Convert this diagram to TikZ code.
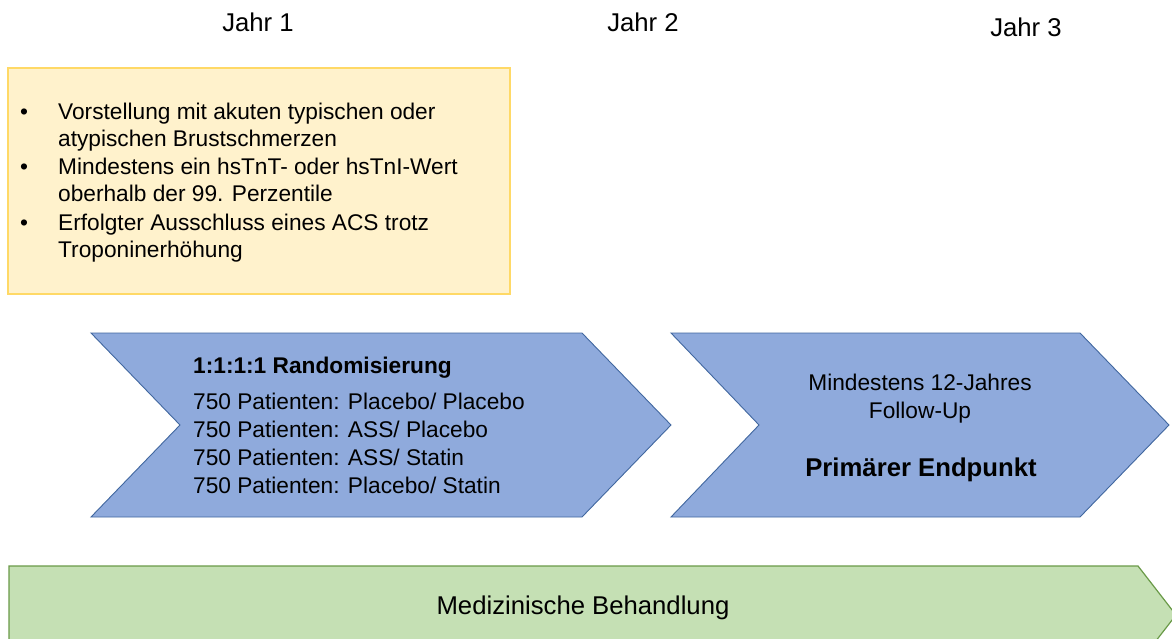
\documentclass[tikz,border=0pt]{standalone}
\usepackage{fontspec}
\setmainfont{Liberation Sans}
\definecolor{chevfill}{HTML}{8FAADC}
\definecolor{chevdraw}{HTML}{41679F}
\definecolor{yelfill}{HTML}{FFF2CC}
\definecolor{yeldraw}{HTML}{FFD966}
\definecolor{grnfill}{HTML}{C5E0B4}
\definecolor{grndraw}{HTML}{6A9A48}
\tikzset{
  chev/.style={fill=chevfill,draw=chevdraw,line width=0.9pt,line join=miter},
  ybox/.style={fill=yelfill,draw=yeldraw,line width=1.2pt},
  gbar/.style={fill=grnfill,draw=grndraw,line width=1.2pt},
  txt/.style={inner sep=0pt,font=\fontsize{22.7}{28}\selectfont,anchor=base west},
  txtb/.style={txt,font=\fontsize{22.7}{28}\selectfont\bfseries},
  big/.style={inner sep=0pt,font=\fontsize{25.7}{30}\selectfont,anchor=base},
}
\begin{document}
\begin{tikzpicture}[x=1pt,y=-1pt]
\useasboundingbox (0,0) rectangle (1172,639);
\begin{scope}
\clip (0,0) rectangle (1172,639);
% green bar
\draw[gbar] (9,566) -- (1138,566) -- (1176,615) -- (1138,664) -- (9,664) -- cycle;
\end{scope}
\node[big] (med) at (583,614) {Medizinische Behandlung};
% year labels
\node[big] (j1) at (258,32) {Jahr 1};
\node[big] (j2) at (643,32) {Jahr 2};
\node[big] (j3) at (1026,37) {Jahr 3};
% yellow box
\draw[ybox] (8,68) rectangle (510,294);
\node[txt] (b1) at (20,120) {•};
\node[txt] (l1) at (58,120) {Vorstellung mit akuten typischen oder};
\node[txt] (l2) at (58,147) {atypischen Brustschmerzen};
\node[txt] (b2) at (20,175) {•};
\node[txt] (l3) at (58,175) {Mindestens ein hsTnT- oder hsTnI-Wert};
\node[txt] (l4) at (58,202) {oberhalb der 99. Perzentile};
\node[txt] (b3) at (20,230) {•};
\node[txt] (l5) at (58,230) {Erfolgter Ausschluss eines ACS trotz};
\node[txt] (l6) at (58,257) {Troponinerhöhung};
% chevron 1
\draw[chev] (91,333) -- (582,333) -- (671,425) -- (582,517) -- (91,517) -- (180,425) -- cycle;
\node[txtb] (r0) at (193,373) {1:1:1:1 Randomisierung};
\node[txt] (r1) at (193,409) {750 Patienten: Placebo/ Placebo};
\node[txt] (r2) at (193,437) {750 Patienten: ASS/ Placebo};
\node[txt] (r3) at (193,465) {750 Patienten: ASS/ Statin};
\node[txt] (r4) at (193,493) {750 Patienten: Placebo/ Statin};
% chevron 2
\draw[chev] (671,333) -- (1080,333) -- (1169,425) -- (1080,517) -- (671,517) -- (759,425) -- cycle;
\node[txt,anchor=base] (f1) at (920,390) {Mindestens 12-Jahres};
\node[txt,anchor=base] (f2) at (920,418) {Follow-Up};
\node[big,font=\fontsize{25.7}{30}\selectfont\bfseries] (pe) at (921,476) {Primärer Endpunkt};
\end{tikzpicture}
\end{document}
